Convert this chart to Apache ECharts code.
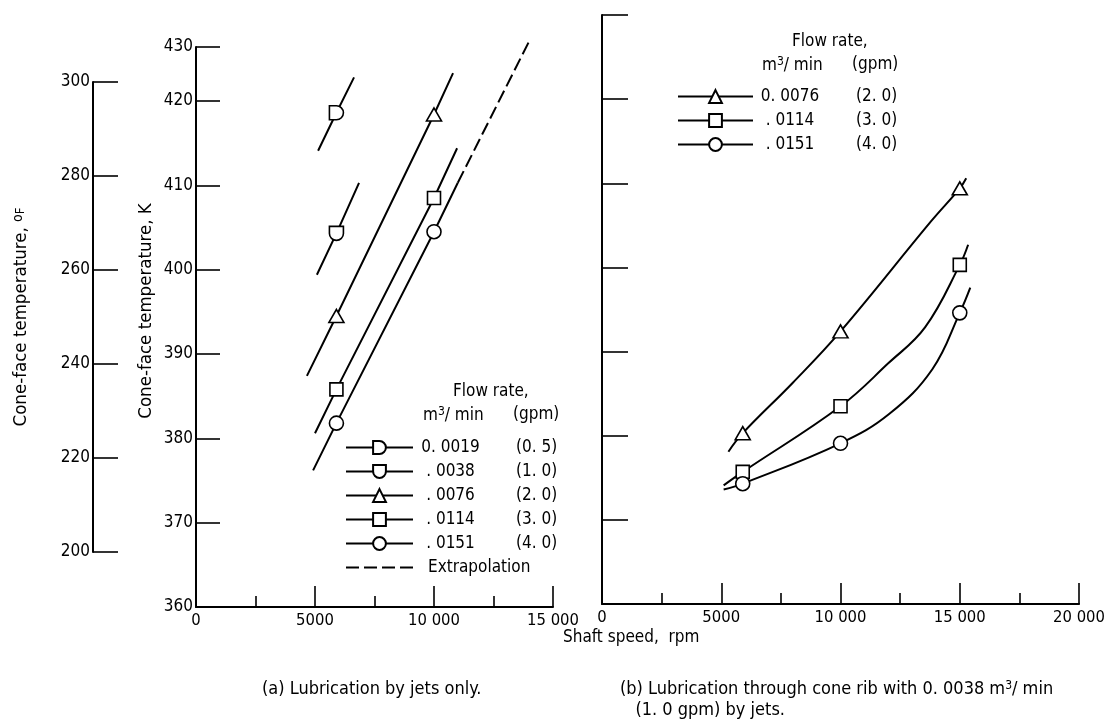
<!DOCTYPE html>
<html>
<head>
<meta charset="utf-8">
<script src="https://cdn.jsdelivr.net/npm/echarts@6/dist/echarts.min.js"></script>
<style>
  html, body { margin: 0; padding: 0; background: #fff; }
  #chart { width: 1108px; height: 722px; }
</style>
</head>
<body>
<div id="chart"></div>
<script>
const FONT = "'Liberation Sans Narrow', 'DejaVu Sans Condensed', 'Liberation Sans', sans-serif";

// Legend text: flow rate in m^3/min and in gpm
const jetFlowM3 = ['0. 0019', '. 0038', '. 0076', '. 0114', '. 0151'];
const jetFlowGpm = ['(0. 5)', '(1. 0)', '(2. 0)', '(3. 0)', '(4. 0)'];
const ribFlowM3 = ['0. 0076', '. 0114', '. 0151'];
const ribFlowGpm = ['(2. 0)', '(3. 0)', '(4. 0)'];

// Axis ticks
const kelvinTicks = [360, 370, 380, 390, 400, 410, 420];
const kelvinTopLabel = '430';
const fahrenheitRange = [200, 300];
const speedRangeJets = [0, 15000];
const speedRangeRib = [0, 20000];

// (a) Lubrication by jets only -- measured points [rpm, K] and faired-line ends
const jet0019Pts = [[5900, 418.6]];
const jet0019Fit = [[5130, 414.1], [6640, 422.8]];
const jet0038Pts = [[5900, 404.3]];
const jet0038Fit = [[5080, 399.4], [6850, 410.3]];
const jet0076Pts = [[5900, 394.5], [10000, 418.4]];
const jet0076Fit = [[4660, 387.4], [10800, 423.3]];
const jet0114Pts = [[5900, 385.8], [10000, 408.5]];
const jet0114Fit = [[5000, 380.6], [10970, 414.4]];
const jet0151Pts = [[5900, 381.8], [10000, 404.5]];
const jet0151Fit = [[4920, 376.2], [11000, 410.3]];
const jet0151Extrap = [[11000, 410.3], [14000, 427.1]];

// (b) Lubrication through cone rib -- measured points and faired-curve points
const rib0076Pts = [[5900, 380.3], [10000, 392.4], [15000, 409.4]];
const rib0076Fit = [[5300, 378.1], [8000, 386.3], [13800, 405.5], [15270, 410.6]];
const rib0114Pts = [[5900, 375.7], [10000, 383.5], [15000, 400.3]];
const rib0114Fit = [[5100, 374.1], [12000, 388.6], [13550, 392.9], [15350, 402.7]];
const rib0151Pts = [[5900, 374.3], [10000, 379.1], [15000, 394.6]];
const rib0151Fit = [[5100, 373.6], [12050, 382.6], [13850, 387.9], [15440, 397.6]];

// Marker shapes
const SYM_D = 'path://M0 0 H7 A7 7 0 0 1 7 14 H0 Z';      // flat left, round right
const SYM_U = 'path://M0 0 H14 V7 A7 7 0 0 1 0 7 Z';      // flat top, round bottom

function merged(pts, fit) {
  const rows = fit.map(p => ({ value: p, symbol: 'none' }))
    .concat(pts.map(p => ({ value: p })));
  return rows.sort((a, b) => a.value[0] - b.value[0]);
}

function lineSeries(name, axis, pts, fit, symbol, size, smooth) {
  return {
    name, type: 'line', xAxisIndex: axis, yAxisIndex: axis,
    data: merged(pts, fit),
    symbol, symbolSize: size, symbolKeepAspect: true, showAllSymbol: true,
    smooth: smooth ? 0.4 : false,
    clip: false, z: 3,
    lineStyle: { color: '#000', width: 2 },
    itemStyle: { color: '#fff', borderColor: '#000', borderWidth: 1.6 },
    emphasis: { disabled: true }
  };
}

const series = [
  lineSeries('a0', 1, jet0019Pts, jet0019Fit, SYM_D, [14, 14], false),
  lineSeries('a1', 1, jet0038Pts, jet0038Fit, SYM_U, [14, 14], false),
  lineSeries('a2', 1, jet0076Pts, jet0076Fit, 'triangle', [15, 13], false),
  lineSeries('a3', 1, jet0114Pts, jet0114Fit, 'rect', [13, 13], false),
  lineSeries('a4', 1, jet0151Pts, jet0151Fit, 'circle', [14, 14], false),
  {
    name: 'aExt', type: 'line', xAxisIndex: 1, yAxisIndex: 1,
    data: jet0151Extrap, symbol: 'none', clip: false, z: 2,
    lineStyle: { color: '#000', width: 2, type: [13, 5] },
    itemStyle: { color: 'rgba(0,0,0,0)', borderWidth: 0 },
    emphasis: { disabled: true }
  },
  lineSeries('b0', 2, rib0076Pts, rib0076Fit, 'triangle', [15, 13], true),
  lineSeries('b1', 2, rib0114Pts, rib0114Fit, 'rect', [13, 13], true),
  lineSeries('b2', 2, rib0151Pts, rib0151Fit, 'circle', [14, 14], true)
];

// legend text lookup
const legendText = {};
jetFlowM3.forEach((m, i) => { legendText['a' + i] = '{v|' + m + '}{g|' + jetFlowGpm[i] + '}'; });
ribFlowM3.forEach((m, i) => { legendText['b' + i] = '{v|' + m + '}{g|' + ribFlowGpm[i] + '}'; });
legendText['aExt'] = '{e|Extrapolation}';

const axisBlack = { lineStyle: { color: '#000', width: 2 } };
const speedLabel = v => (v >= 10000 ? String(v).replace(/(\d+)(\d{3})$/, '$1 $2') : String(v));

const speedAxis = (grid, range) => ({
  type: 'value', gridIndex: grid, min: range[0], max: range[1], interval: 5000,
  axisLine: axisBlack,
  axisTick: { inside: true, length: 21, lineStyle: { color: '#000', width: 1.6 } },
  minorTick: { show: true, splitNumber: 2, length: 11, lineStyle: { color: '#000', width: 1.6 } },
  splitLine: { show: false },
  axisLabel: { color: '#000', fontFamily: FONT, fontSize: 16.5, margin: 5, formatter: speedLabel }
});

const kelvinLabelValues = kelvinTicks.concat([426.4]);
const legendRich = (vw, gp) => ({
  v: { width: vw, align: 'right', fontFamily: FONT, fontSize: 17 },
  g: { padding: [0, 0, 0, gp], fontFamily: FONT, fontSize: 17 },
  e: { padding: [0, 0, 0, 10], fontFamily: FONT, fontSize: 17 }
});
const headerText = (left, top, text) => ({
  type: 'text', left, top,
  style: {
    text, font: '17px ' + FONT, fill: '#000',
    rich: { s: { fontSize: 12, fontFamily: FONT, padding: [0, 0, 8, 0] } }
  }
});

const option = {
  animation: false,
  backgroundColor: '#fff',
  grid: [
    { left: 93, top: 82, width: 1, height: 470 },
    { left: 196, top: 47, width: 357, height: 560 },
    { left: 602, top: 15, width: 479, height: 589 }
  ],
  xAxis: [
    { type: 'value', gridIndex: 0, show: false, min: 0, max: 1 },
    speedAxis(1, speedRangeJets),
    speedAxis(2, speedRangeRib)
  ],
  yAxis: [
    {
      type: 'value', gridIndex: 0, min: fahrenheitRange[0], max: fahrenheitRange[1], interval: 20,
      axisLine: axisBlack,
      axisTick: { inside: true, length: 25, lineStyle: { color: '#000', width: 1.6 } },
      splitLine: { show: false },
      axisLabel: { color: '#000', fontFamily: FONT, fontSize: 17, margin: 3 },
      name: 'Cone-face temperature, {o|o}{f|F}',
      nameLocation: 'middle', nameGap: 62,
      nameTextStyle: {
        color: '#000', fontFamily: FONT, fontSize: 18.5,
        rich: { o: { fontSize: 14, fontFamily: FONT, padding: [0, 0, 6, 0] }, f: { fontSize: 13, fontFamily: FONT } }
      }
    },
    {
      type: 'value', gridIndex: 1, min: 360, max: 426.4, interval: 10,
      axisLine: axisBlack,
      axisTick: { inside: true, length: 24, customValues: kelvinLabelValues, lineStyle: { color: '#000', width: 1.6 } },
      splitLine: { show: false },
      axisLabel: {
        color: '#000', fontFamily: FONT, fontSize: 17, margin: 3,
        customValues: kelvinLabelValues,
        formatter: v => (v > kelvinTicks[kelvinTicks.length - 1] ? kelvinTopLabel : String(v))
      },
      name: 'Cone-face temperature, K',
      nameLocation: 'middle', nameGap: 40,
      nameTextStyle: { color: '#000', fontFamily: FONT, fontSize: 18.5, padding: [0, 0, 0, 32] }
    },
    {
      type: 'value', gridIndex: 2, min: 360, max: 430, interval: 10,
      axisLine: axisBlack,
      axisTick: { inside: true, length: 26, lineStyle: { color: '#000', width: 1.6 } },
      splitLine: { show: false },
      axisLabel: { show: false }
    }
  ],
  legend: [
    {
      data: ['a0', 'a1', 'a2', 'a3', 'a4', 'aExt'],
      orient: 'vertical', left: 345, top: 439, padding: 0,
      itemWidth: 67, itemHeight: 16, itemGap: 7, selectedMode: false,
      formatter: n => legendText[n],
      textStyle: { color: '#000', fontFamily: FONT, fontSize: 17, rich: legendRich(65, 33) }
    },
    {
      data: ['b0', 'b1', 'b2'],
      orient: 'vertical', left: 677, top: 88, padding: 0,
      itemWidth: 75, itemHeight: 16, itemGap: 7, selectedMode: false,
      formatter: n => legendText[n],
      textStyle: { color: '#000', fontFamily: FONT, fontSize: 17, rich: legendRich(64, 34) }
    }
  ],
  graphic: [
    headerText(453, 383, 'Flow rate,'),
    headerText(423, 406, 'm{s|3}/ min'),
    headerText(513, 406, '(gpm)'),
    headerText(792, 33, 'Flow rate,'),
    headerText(762, 56, 'm{s|3}/ min'),
    headerText(852, 56, '(gpm)'),
    { type: 'text', left: 563, top: 629, style: { text: 'Shaft speed,  rpm', font: '17px ' + FONT, fill: '#000' } },
    { type: 'text', left: 262, top: 680, style: { text: '(a) Lubrication by jets only.', font: '18px ' + FONT, fill: '#000' } },
    {
      type: 'text', left: 620, top: 679,
      style: {
        text: '(b) Lubrication through cone rib with 0. 0038 m{s|3}/ min\n   (1. 0 gpm) by jets.',
        font: '18px ' + FONT, fill: '#000', lineHeight: 21,
        rich: { s: { fontSize: 12, fontFamily: FONT, padding: [0, 0, 8, 0] } }
      }
    }
  ],
  series
};

echarts.init(document.getElementById('chart'), null, { renderer: 'canvas' }).setOption(option);
</script>
</body>
</html>
